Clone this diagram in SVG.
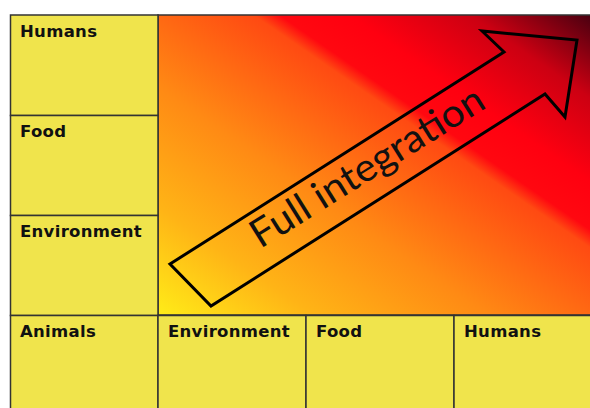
<svg xmlns="http://www.w3.org/2000/svg" width="590" height="408" viewBox="0 0 590 408">
  <defs>
    <linearGradient id="heat" x1="0" y1="1" x2="1" y2="0">
      <stop offset="0" stop-color="#FFEC18"/>
      <stop offset="0.18" stop-color="#FFB416"/>
      <stop offset="0.38" stop-color="#FF8A14"/>
      <stop offset="0.61" stop-color="#FF4A12"/>
      <stop offset="0.64" stop-color="#FF0810"/>
      <stop offset="0.72" stop-color="#FF0010"/>
      <stop offset="0.86" stop-color="#CC0012"/>
      <stop offset="1" stop-color="#480010"/>
    </linearGradient>
    <style>
      .cell { fill: #F0E44C; stroke: #333333; stroke-width: 1.5; }
      .lbl { font-family: "DejaVu Sans", "Liberation Sans", sans-serif; font-weight: bold; font-size: 16.5px; letter-spacing: 0.3px; fill: #111111; }
      .arrow { fill: none; stroke: #000000; stroke-width: 3; stroke-linejoin: miter; }
      .big { font-family: Lato, "Open Sans", sans-serif; font-size: 39px; fill: #111111; }
    </style>
  </defs>
  <rect x="0" y="0" width="590" height="408" fill="#FFFFFF"/>
  <g id="heatmap">
    <rect x="158" y="15" width="434" height="300" fill="url(#heat)" stroke="#333333" stroke-width="1.5"/>
  </g>
  <g id="row-humans"><rect class="cell" x="10.5" y="15" width="147.5" height="100.5"/><text class="lbl" x="20" y="36.5">Humans</text></g>
  <g id="row-food"><rect class="cell" x="10.5" y="115.5" width="147.5" height="100"/><text class="lbl" x="20" y="136.5">Food</text></g>
  <g id="row-environment"><rect class="cell" x="10.5" y="215.5" width="147.5" height="100"/><text class="lbl" x="20" y="236.5">Environment</text></g>
  <g id="animals"><rect class="cell" x="10.5" y="315.5" width="147.5" height="100"/><text class="lbl" x="20" y="336.5">Animals</text></g>
  <g id="col-environment"><rect class="cell" x="158" y="315.5" width="148" height="100"/><text class="lbl" x="168" y="336.5">Environment</text></g>
  <g id="col-food"><rect class="cell" x="306" y="315.5" width="148" height="100"/><text class="lbl" x="316" y="336.5">Food</text></g>
  <g id="col-humans"><rect class="cell" x="454" y="315.5" width="140" height="100"/><text class="lbl" x="464" y="336.5">Humans</text></g>
  <g id="connectors">
    <g id="full-integration">
      <polygon class="arrow" points="170,264 504,52 482,31 577,40 565,117 545,94 211,306"/>
      <text class="big" x="0" y="0" text-anchor="middle" textLength="268" lengthAdjust="spacingAndGlyphs" transform="translate(374,178) rotate(-32)">Full integration</text>
    </g>
  </g>
</svg>
